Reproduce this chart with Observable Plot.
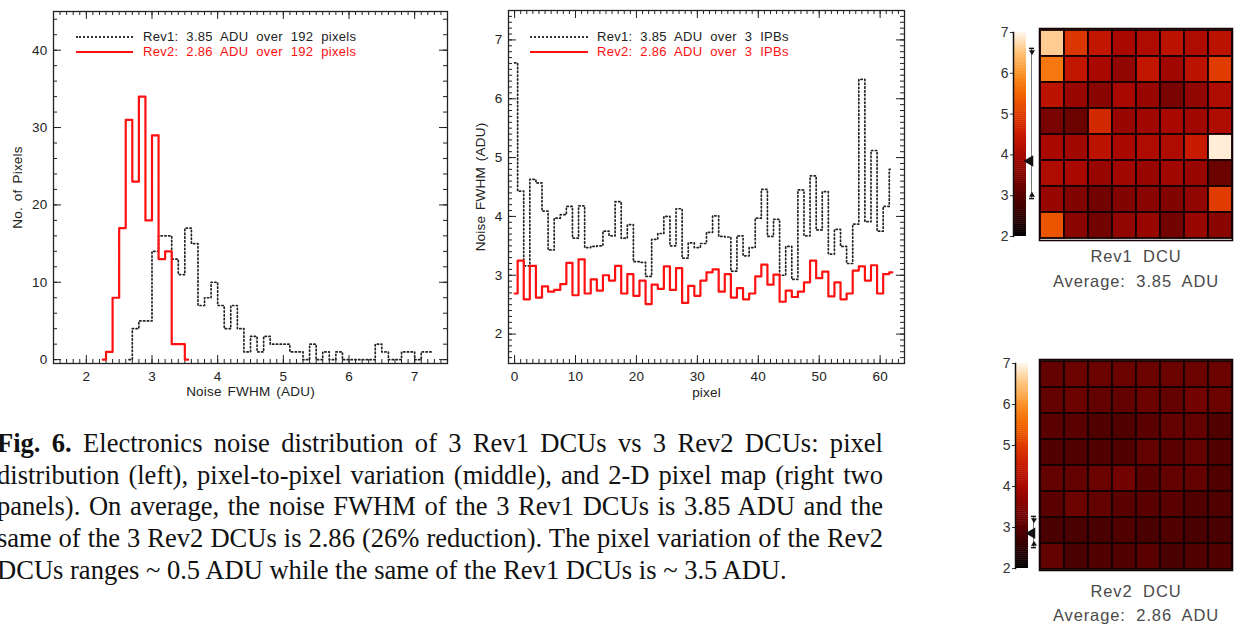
<!DOCTYPE html>
<html>
<head>
<meta charset="utf-8">
<script src="https://cdn.jsdelivr.net/npm/d3@7"></script>
<script src="https://cdn.jsdelivr.net/npm/@observablehq/plot@0.6"></script>
<style>
html,body{margin:0;padding:0;background:#fff;}
#root{position:relative;width:1236px;height:627px;overflow:hidden;background:#fff;font-family:"Liberation Sans",Arial,sans-serif;}
#root > *{position:absolute;}
.legtext{font-size:13px;white-space:nowrap;word-spacing:4px;letter-spacing:0.3px;line-height:13px;}
</style>
</head>
<body>
<div id="root"></div>
<script>
// ---------------- DATA ----------------
// Left panel: histogram of noise FWHM (bin centres, counts)
const rev1HistCenters = [2.65,2.75,2.85,2.95,3.05,3.15,3.25,3.35,3.45,3.55,3.65,3.75,3.85,3.95,4.05,4.15,4.25,4.35,4.45,4.55,4.65,4.75,4.85,4.95,5.05,5.15,5.25,5.35,5.45,5.55,5.65,5.75,5.85,5.95,6.05,6.15,6.25,6.35,6.45,6.55,6.65,6.75,6.85,6.95,7.05,7.15,7.25];
const rev1HistCounts  = [0,4,5,5,14,16,16,13,11,17,15,7,8,10,7,4,7,4,1,3,1,3,2,2,2,1,1,0,2,0,1,0,1,0,0,0,0,0,2,1,0,0,1,1,0,1,1];
const rev2HistCenters = [2.25,2.35,2.45,2.55,2.65,2.75,2.85,2.95,3.05,3.15,3.25,3.35,3.45,3.55];
const rev2HistCounts  = [0,1,8,17,31,23,34,18,29,13,14,2,2,0];
const histXTicks = [2,3,4,5,6,7];
const histYTicks = [0,10,20,30,40];
const histXLabel = "Noise FWHM (ADU)";
const histYLabel = "No. of Pixels";
const histLegend = ["Rev1: 3.85 ADU over 192 pixels", "Rev2: 2.86 ADU over 192 pixels"];

// Middle panel: noise per pixel
const pixelIndex = [0,1,2,3,4,5,6,7,8,9,10,11,12,13,14,15,16,17,18,19,20,21,22,23,24,25,26,27,28,29,30,31,32,33,34,35,36,37,38,39,40,41,42,43,44,45,46,47,48,49,50,51,52,53,54,55,56,57,58,59,60,61,62];
const rev1PixelNoise = [6.61,4.43,3.16,4.63,4.57,4.09,3.43,3.97,4.03,4.17,3.63,4.18,3.47,3.49,3.50,3.75,3.67,4.25,3.63,3.86,3.23,3.22,2.98,3.61,3.71,4.00,3.50,4.13,3.29,3.55,3.47,3.54,3.73,4.01,3.66,3.65,3.07,3.67,3.33,3.47,3.97,4.46,3.66,3.95,3.00,3.49,2.93,4.45,3.67,4.69,3.77,4.42,3.36,3.78,3.49,3.20,3.87,6.33,3.91,5.12,3.75,4.17,4.80];
const rev2PixelNoise = [2.69,3.25,2.59,3.16,2.62,2.81,2.72,2.75,2.85,3.21,2.66,3.27,2.69,2.93,2.74,3.00,2.91,3.16,2.69,3.02,2.65,2.91,2.51,2.84,2.77,3.15,2.75,3.12,2.53,2.82,2.65,2.91,3.05,3.10,2.72,3.02,2.62,2.78,2.59,2.69,2.98,3.18,2.84,3.01,2.55,2.74,2.63,2.72,2.88,3.25,2.95,3.06,2.64,2.88,2.59,2.69,3.08,3.15,2.91,3.17,2.69,3.02,3.05];
const pixXTicks = [0,10,20,30,40,50,60];
const pixYTicks = [2,3,4,5,6,7];
const pixXLabel = "pixel";
const pixYLabel = "Noise FWHM (ADU)";
const pixLegend = ["Rev1: 3.85 ADU over 3 IPBs", "Rev2: 2.86 ADU over 3 IPBs"];

// Right panels: 8x8 pixel maps (rows top to bottom)
const rev1Map = [
  [6.6,4.9,4.4,4.0,4.1,4.3,4.1,4.3],
  [5.7,4.4,4.0,3.7,4.4,3.9,4.3,5.0],
  [4.3,3.8,3.6,4.0,3.8,3.4,3.7,4.1],
  [3.4,3.2,4.7,3.8,3.9,4.0,3.9,4.1],
  [4.0,3.9,4.3,4.0,4.1,4.1,4.5,6.9],
  [4.1,4.0,3.8,3.9,3.8,3.9,3.8,3.2],
  [3.8,3.5,3.3,3.5,3.6,3.5,3.7,5.0],
  [5.3,3.6,3.3,3.7,3.8,3.3,3.8,3.6]
];
const rev2Map = [
  [3.1,3.2,3.2,3.2,3.2,3.2,3.2,3.2],
  [3.1,3.2,3.1,3.1,3.2,3.1,3.3,3.2],
  [3.0,3.0,2.9,2.9,3.0,3.1,3.1,2.9],
  [2.9,2.9,2.9,2.9,3.1,3.0,3.1,2.9],
  [3.1,3.1,3.2,3.3,3.0,3.1,3.1,2.9],
  [3.0,3.2,3.1,3.0,3.0,3.0,2.9,2.9],
  [2.8,2.8,2.8,2.9,2.8,2.9,2.8,2.8],
  [3.1,2.8,2.9,2.9,3.0,2.8,2.9,2.9]
];
const mapTicks = [2,3,4,5,6,7];
const mapTitles = ["Rev1 DCU", "Rev2 DCU"];
const mapAverages = [3.85, 2.86];

const captionLines = [
  ["Fig. 6.", " Electronics noise distribution of 3 Rev1 DCUs vs 3 Rev2 DCUs: pixel"],
  ["", "distribution (left), pixel-to-pixel variation (middle), and 2-D pixel map (right two"],
  ["", "panels). On average, the noise FWHM of the 3 Rev1 DCUs is 3.85 ADU and the"],
  ["", "same of the 3 Rev2 DCUs is 2.86 (26% reduction). The pixel variation of the Rev2"],
  ["", "DCUs ranges ~ 0.5 ADU while the same of the Rev1 DCUs is ~ 3.5 ADU."]
];

// ---------------- STYLE ----------------
const SANS = '"Liberation Sans", Arial, sans-serif';
const INK = "#222";
const RED = "#ff1010";
const colorScale = {
  type: "linear",
  domain: [2, 3, 4, 4.5, 5, 5.5, 6, 6.5, 7],
  range: ["#000000","#5a0000","#a80800","#c81a00","#e03c00","#f26600","#fb9228","#ffc27a","#fff8f0"],
  interpolate: "rgb",
  clamp: true
};
const root = document.getElementById("root");
function place(node, left, top) {
  node.style.position = "absolute";
  node.style.left = left + "px";
  node.style.top = top + "px";
  root.appendChild(node);
  return node;
}

function idlFrameMarks(fw, fh, xMajor, xMinor, yMajor, yMinor) {
  const M = 8, m = 4, s = {stroke: INK, strokeWidth: 1};
  return [
    Plot.tickX(xMinor, {x: d => d, insetTop: fh - m, ...s}),
    Plot.tickX(xMinor, {x: d => d, insetBottom: fh - m, ...s}),
    Plot.tickX(xMajor, {x: d => d, insetTop: fh - M, ...s}),
    Plot.tickX(xMajor, {x: d => d, insetBottom: fh - M, ...s}),
    Plot.tickY(yMinor, {y: d => d, insetRight: fw - m, ...s}),
    Plot.tickY(yMinor, {y: d => d, insetLeft: fw - m, ...s}),
    Plot.tickY(yMajor, {y: d => d, insetRight: fw - M, ...s}),
    Plot.tickY(yMajor, {y: d => d, insetLeft: fw - M, ...s}),
    Plot.frame({stroke: INK, strokeWidth: 1.3})
  ];
}

function legend(left, top, texts, lineLeft, lineW) {
  [0, 1].forEach(k => {
    const ln = document.createElement("div");
    ln.style.width = lineW + "px";
    ln.style.height = "0px";
    ln.style.borderTop = k === 0 ? "2px dotted #333" : "2px solid " + RED;
    place(ln, lineLeft, top + k * 15 - 1);
    const t = document.createElement("div");
    t.className = "legtext";
    t.textContent = texts[k];
    t.style.color = k === 0 ? INK : RED;
    place(t, left, top + k * 15 - 7);
  });
}

const chartStyle = {fontFamily: SANS, fontSize: "13.5px", color: INK, background: "transparent", letterSpacing: "0.2px", wordSpacing: "2px"};
const DOTS = {stroke: "#222", strokeWidth: 1.7, strokeDasharray: "1.3 2.5"};

// ---------------- LEFT: histogram ----------------
{
  const W = 460, H = 400, mL = 53, mR = 13, mT = 11, mB = 37;
  const fw = W - mL - mR, fh = H - mT - mB;
  const rev1 = rev1HistCenters.map((x, i) => ({x, n: rev1HistCounts[i]}));
  const rev2 = rev2HistCenters.map((x, i) => ({x, n: rev2HistCounts[i]}));
  const svg = Plot.plot({
    width: W, height: H, marginLeft: mL, marginRight: mR, marginTop: mT, marginBottom: mB,
    x: {domain: [1.5, 7.5]},
    y: {domain: [-0.5, 45]},
    style: chartStyle,
    marks: [
      ...idlFrameMarks(fw, fh, histXTicks, d3.range(1.6, 7.45, 0.1), histYTicks, d3.range(0, 45, 2)),
      Plot.axisX({ticks: histXTicks, tickSize: 0, tickPadding: 8, label: null, tickFormat: d => String(d), fontSize: 13.5}),
      Plot.axisY({ticks: histYTicks, tickSize: 0, tickPadding: 6, label: null, tickFormat: d => String(d), fontSize: 13.5}),
      Plot.line(rev1, {x: "x", y: "n", curve: "step", ...DOTS}),
      Plot.line(rev2, {x: "x", y: "n", curve: "step", stroke: RED, strokeWidth: 2.2}),
      Plot.text([histXLabel], {frameAnchor: "bottom", dy: 32, fontSize: 13.5, fill: INK}),
      Plot.text([histYLabel], {frameAnchor: "left", textAnchor: "middle", dx: -36, rotate: -90, fontSize: 13.5, fill: INK})
    ]
  });
  place(svg, 0, 0);
  legend(143, 37, histLegend, 76, 57);
}

// ---------------- MIDDLE: per-pixel noise ----------------
{
  const W = 460, H = 405, mL = 48, mR = 16, mT = 10, mB = 42;
  const fw = W - mL - mR, fh = H - mT - mB;
  const svg = Plot.plot({
    width: W, height: H, marginLeft: mL, marginRight: mR, marginTop: mT, marginBottom: mB,
    x: {domain: [-1, 64]},
    y: {domain: [1.5, 7.5]},
    style: chartStyle,
    marks: [
      ...idlFrameMarks(fw, fh, pixXTicks, d3.range(-1, 65, 1), pixYTicks, d3.range(1.6, 7.45, 0.1)),
      Plot.axisX({ticks: pixXTicks, tickSize: 0, tickPadding: 8, label: null, tickFormat: d => String(d), fontSize: 13.5}),
      Plot.axisY({ticks: pixYTicks, tickSize: 0, tickPadding: 6, label: null, tickFormat: d => String(d), fontSize: 13.5}),
      Plot.line(pixelIndex, {x: i => i, y: i => rev1PixelNoise[i], curve: "step", ...DOTS}),
      Plot.line(pixelIndex, {x: i => i, y: i => rev2PixelNoise[i], curve: "step", stroke: RED, strokeWidth: 2.2}),
      Plot.text([pixXLabel], {frameAnchor: "bottom", dy: 33, fontSize: 13.5, fill: INK}),
      Plot.text([pixYLabel], {frameAnchor: "left", textAnchor: "middle", dx: -28, rotate: -90, fontSize: 13.5, fill: INK})
    ]
  });
  place(svg, 460, 0);
  legend(597, 37, pixLegend, 530, 58);
}

// ---------------- RIGHT: pixel maps with colour bars ----------------
function mapPanel(map, series, title, avg, top, labelDy) {
  const cells = map.flatMap((row, r) => row.map((v, c) => ({r, c, v})));
  const mapSvg = Plot.plot({
    width: 276, height: 300, marginLeft: 79, marginRight: 4, marginTop: top.cellsTop, marginBottom: 300 - top.cellsBottom,
    x: {domain: d3.range(8), padding: 0, axis: null},
    y: {domain: d3.range(8), padding: 0, axis: null},
    color: colorScale,
    style: {fontFamily: SANS, background: "transparent", letterSpacing: "0.9px", wordSpacing: "5px"},
    marks: [
      Plot.cell(cells, {x: "c", y: "r", fill: "v", stroke: "#140000", strokeWidth: 1.8}),
      Plot.frame({stroke: "#140000", strokeWidth: 1.5}),
      Plot.text([title], {frameAnchor: "bottom", dy: labelDy[0], fontSize: 16.5, fill: "#4a4a4a"}),
      Plot.text([`Average: ${avg.toFixed(2)} ADU`], {frameAnchor: "bottom", dy: labelDy[1], fontSize: 16.5, fill: "#4a4a4a"})
    ]
  });
  place(mapSvg, 960, top.offset);

  const stops = d3.range(2, 7, 0.05).map(v => ({v0: v, v1: Math.min(7, v + 0.06), m: v + 0.025}));
  const lo = d3.min(series), hi = d3.max(series);
  const cb = Plot.plot({
    width: 50, height: 250, marginLeft: top.barLeft, marginRight: 50 - top.barLeft - 13,
    marginTop: top.barTop, marginBottom: 250 - top.barBottom,
    y: {domain: [2, 7]},
    color: colorScale,
    style: {fontFamily: SANS, background: "transparent", overflow: "visible"},
    marks: [
      Plot.rect(stops, {y1: "v0", y2: "v1", fill: "m"}),
      Plot.frame({anchor: "left", stroke: "#111", strokeWidth: 1.5}),
      Plot.axisY({ticks: mapTicks, anchor: "left", tickSize: 3, tickPadding: 2, fontSize: 14, label: null, tickFormat: d => String(d), color: "#333"}),
      Plot.rect([{a: lo, b: hi}], {y1: "a", y2: "b", insetLeft: 6, insetRight: 6, dx: 12, fill: "#777"}),
      Plot.tickY([lo, hi], {y: d => d, insetLeft: 4, insetRight: 4, dx: 12, stroke: "#111", strokeWidth: 1.5}),
      Plot.dot([hi], {y: d => d, dx: 12, dy: 3.5, symbol: "triangle", rotate: 180, r: 2.2, fill: "#111", stroke: "none"}),
      Plot.dot([lo], {y: d => d, dx: 12, dy: -3.5, symbol: "triangle", r: 2.2, fill: "#111", stroke: "none"}),
      Plot.dot([avg], {y: d => d, dx: 10, symbol: "triangle", rotate: -90, r: 4.2, fill: "#111", stroke: "none"})
    ]
  });
  place(cb, 990, top.offset);
}
mapPanel(rev1Map, rev1PixelNoise, mapTitles[0], mapAverages[0],
  {offset: 0, cellsTop: 28, cellsBottom: 240, barLeft: 23, barTop: 32, barBottom: 236}, [21, 46]);
mapPanel(rev2Map, rev2PixelNoise, mapTitles[1], mapAverages[1],
  {offset: 330, cellsTop: 29, cellsBottom: 240, barLeft: 25, barTop: 33, barBottom: 238}, [26, 50]);

// ---------------- CAPTION ----------------
{
  const NS = "http://www.w3.org/2000/svg";
  const svg = document.createElementNS(NS, "svg");
  svg.setAttribute("width", 900);
  svg.setAttribute("height", 190);
  svg.style.overflow = "visible";
  place(svg, 0, 425);
  const texts = captionLines.map(([bold, rest], k) => {
    const t = document.createElementNS(NS, "text");
    t.setAttribute("x", -3);
    t.setAttribute("y", 27 + k * 31.7);
    t.setAttribute("font-family", '"Liberation Serif", "Times New Roman", serif');
    t.setAttribute("font-size", 24);
    t.setAttribute("fill", "#111");
    if (bold) {
      const b = document.createElementNS(NS, "tspan");
      b.setAttribute("font-weight", "bold");
      b.textContent = bold;
      t.appendChild(b);
    }
    const r = document.createElementNS(NS, "tspan");
    r.textContent = rest;
    t.appendChild(r);
    svg.appendChild(t);
    return t;
  });
  // fit the (unjustified) last line to the reference width, then justify the others by word spacing
  const last = texts[texts.length - 1];
  const fs = 24 * 790 / last.getComputedTextLength();
  texts.forEach(t => t.setAttribute("font-size", fs.toFixed(2)));
  texts.slice(0, -1).forEach(t => {
    const w = t.getComputedTextLength();
    const n = (t.textContent.match(/ /g) || []).length;
    t.style.wordSpacing = ((886 - w) / n).toFixed(2) + "px";
  });
}
</script>
</body>
</html>
